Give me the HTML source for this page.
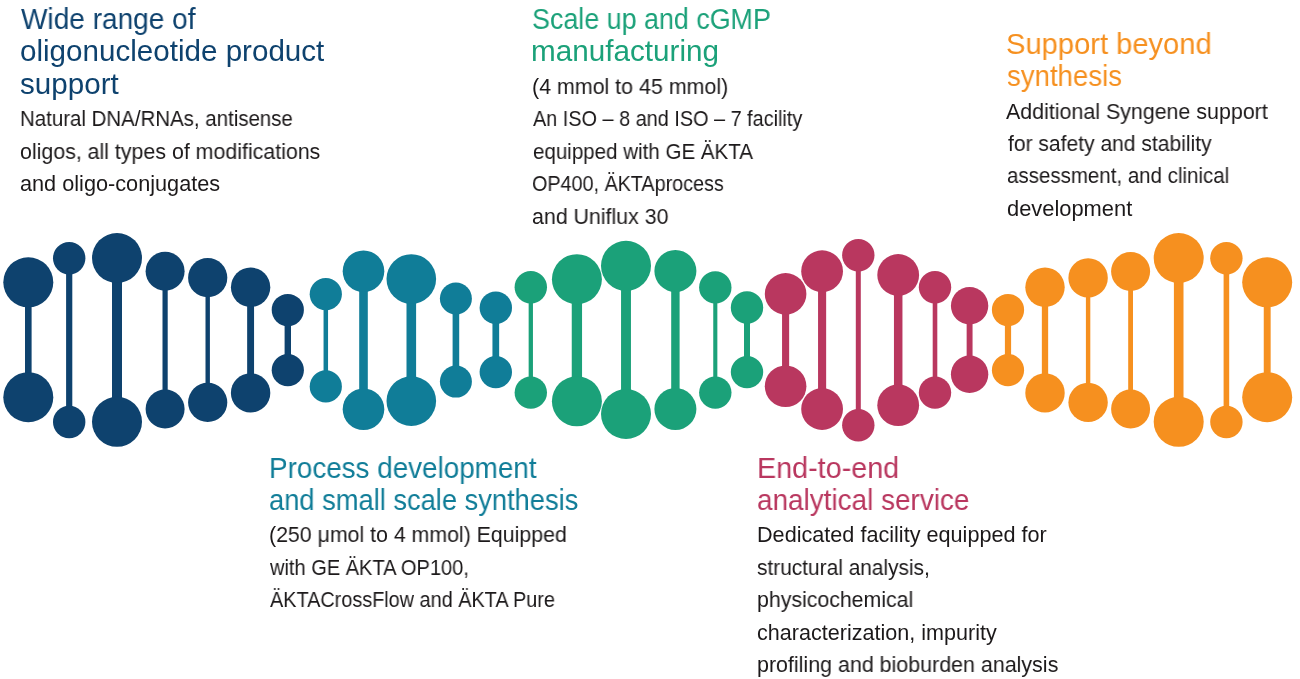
<!DOCTYPE html>
<html><head><meta charset="utf-8"><title>Oligonucleotide services</title>
<style>
html,body{margin:0;padding:0;background:#fff;}
body{width:1300px;height:679px;position:relative;overflow:hidden;font-family:"Liberation Sans",sans-serif;}
svg{position:absolute;left:0;top:0;}
.l{position:absolute;left:0;top:0;white-space:nowrap;line-height:1;transform-origin:0 0;will-change:transform;}
</style></head><body>
<svg width="1300" height="679" viewBox="0 0 1300 679">
<rect x="25" y="282.3" width="6.6" height="114.9" fill="#0e426e"/>
<circle cx="28.3" cy="282.3" r="25" fill="#0e426e"/>
<circle cx="28.3" cy="397.2" r="25" fill="#0e426e"/>
<rect x="66.1" y="258.3" width="6.2" height="163.7" fill="#0e426e"/>
<circle cx="69.2" cy="258.3" r="16.2" fill="#0e426e"/>
<circle cx="69.2" cy="422" r="16.2" fill="#0e426e"/>
<rect x="112" y="258" width="10" height="163.8" fill="#0e426e"/>
<circle cx="117" cy="258" r="25" fill="#0e426e"/>
<circle cx="117" cy="421.8" r="25" fill="#0e426e"/>
<rect x="162.5" y="271.3" width="5.2" height="137.7" fill="#0e426e"/>
<circle cx="165.1" cy="271.3" r="19.5" fill="#0e426e"/>
<circle cx="165.1" cy="409" r="19.5" fill="#0e426e"/>
<rect x="205.5" y="277.7" width="4.4" height="124.7" fill="#0e426e"/>
<circle cx="207.7" cy="277.7" r="19.6" fill="#0e426e"/>
<circle cx="207.7" cy="402.4" r="19.6" fill="#0e426e"/>
<rect x="247.15" y="287.3" width="6.9" height="105.6" fill="#0e426e"/>
<circle cx="250.6" cy="287.3" r="19.7" fill="#0e426e"/>
<circle cx="250.6" cy="392.9" r="19.7" fill="#0e426e"/>
<rect x="284.6" y="310" width="6.4" height="60.2" fill="#0e426e"/>
<circle cx="287.8" cy="310" r="16.1" fill="#0e426e"/>
<circle cx="287.8" cy="370.2" r="16.1" fill="#0e426e"/>
<rect x="323.55" y="294.2" width="4.5" height="92.2" fill="#107d98"/>
<circle cx="325.8" cy="294.2" r="16.1" fill="#107d98"/>
<circle cx="325.8" cy="386.4" r="16.1" fill="#107d98"/>
<rect x="359.2" y="271.2" width="8.6" height="138.1" fill="#107d98"/>
<circle cx="363.5" cy="271.2" r="20.8" fill="#107d98"/>
<circle cx="363.5" cy="409.3" r="20.8" fill="#107d98"/>
<rect x="406.5" y="279" width="9.6" height="122.1" fill="#107d98"/>
<circle cx="411.3" cy="279" r="24.8" fill="#107d98"/>
<circle cx="411.3" cy="401.1" r="24.8" fill="#107d98"/>
<rect x="452.6" y="298.5" width="6.6" height="83.1" fill="#107d98"/>
<circle cx="455.9" cy="298.5" r="16" fill="#107d98"/>
<circle cx="455.9" cy="381.6" r="16" fill="#107d98"/>
<rect x="492.45" y="307.7" width="6.7" height="64.4" fill="#107d98"/>
<circle cx="495.8" cy="307.7" r="16.2" fill="#107d98"/>
<circle cx="495.8" cy="372.1" r="16.2" fill="#107d98"/>
<rect x="528.65" y="287.3" width="4.3" height="105.3" fill="#1ba179"/>
<circle cx="530.8" cy="287.3" r="16.2" fill="#1ba179"/>
<circle cx="530.8" cy="392.6" r="16.2" fill="#1ba179"/>
<rect x="571.75" y="279.2" width="10.3" height="122.1" fill="#1ba179"/>
<circle cx="576.9" cy="279.2" r="25" fill="#1ba179"/>
<circle cx="576.9" cy="401.3" r="25" fill="#1ba179"/>
<rect x="621.05" y="265.8" width="9.9" height="148.2" fill="#1ba179"/>
<circle cx="626" cy="265.8" r="25" fill="#1ba179"/>
<circle cx="626" cy="414" r="25" fill="#1ba179"/>
<rect x="671.2" y="271" width="8.4" height="138" fill="#1ba179"/>
<circle cx="675.4" cy="271" r="21" fill="#1ba179"/>
<circle cx="675.4" cy="409" r="21" fill="#1ba179"/>
<rect x="713.25" y="287.4" width="4.1" height="105.2" fill="#1ba179"/>
<circle cx="715.3" cy="287.4" r="16.2" fill="#1ba179"/>
<circle cx="715.3" cy="392.6" r="16.2" fill="#1ba179"/>
<rect x="744" y="307.5" width="6" height="64.6" fill="#1ba179"/>
<circle cx="747" cy="307.5" r="16.2" fill="#1ba179"/>
<circle cx="747" cy="372.1" r="16.2" fill="#1ba179"/>
<rect x="782.05" y="293.9" width="7.1" height="92.3" fill="#b9375f"/>
<circle cx="785.6" cy="293.9" r="20.8" fill="#b9375f"/>
<circle cx="785.6" cy="386.2" r="20.8" fill="#b9375f"/>
<rect x="818.05" y="271.2" width="8.1" height="137.8" fill="#b9375f"/>
<circle cx="822.1" cy="271.2" r="20.9" fill="#b9375f"/>
<circle cx="822.1" cy="409" r="20.9" fill="#b9375f"/>
<rect x="855.8" y="255.2" width="5" height="170" fill="#b9375f"/>
<circle cx="858.3" cy="255.2" r="16.2" fill="#b9375f"/>
<circle cx="858.3" cy="425.2" r="16.2" fill="#b9375f"/>
<rect x="893.95" y="275" width="8.5" height="130.2" fill="#b9375f"/>
<circle cx="898.2" cy="275" r="20.9" fill="#b9375f"/>
<circle cx="898.2" cy="405.2" r="20.9" fill="#b9375f"/>
<rect x="932.7" y="287.3" width="4.6" height="105.3" fill="#b9375f"/>
<circle cx="935" cy="287.3" r="16.2" fill="#b9375f"/>
<circle cx="935" cy="392.6" r="16.2" fill="#b9375f"/>
<rect x="966.65" y="305.8" width="5.9" height="68.5" fill="#b9375f"/>
<circle cx="969.6" cy="305.8" r="18.7" fill="#b9375f"/>
<circle cx="969.6" cy="374.3" r="18.7" fill="#b9375f"/>
<rect x="1004.9" y="310" width="6.2" height="60.2" fill="#f6901f"/>
<circle cx="1008" cy="310" r="16.1" fill="#f6901f"/>
<circle cx="1008" cy="370.2" r="16.1" fill="#f6901f"/>
<rect x="1041.85" y="287.3" width="6.3" height="105.6" fill="#f6901f"/>
<circle cx="1045" cy="287.3" r="19.7" fill="#f6901f"/>
<circle cx="1045" cy="392.9" r="19.7" fill="#f6901f"/>
<rect x="1085.9" y="277.9" width="4.4" height="124.5" fill="#f6901f"/>
<circle cx="1088.1" cy="277.9" r="19.7" fill="#f6901f"/>
<circle cx="1088.1" cy="402.4" r="19.7" fill="#f6901f"/>
<rect x="1128.2" y="271.5" width="4.8" height="137.5" fill="#f6901f"/>
<circle cx="1130.6" cy="271.5" r="19.5" fill="#f6901f"/>
<circle cx="1130.6" cy="409" r="19.5" fill="#f6901f"/>
<rect x="1173.9" y="258" width="9.6" height="163.8" fill="#f6901f"/>
<circle cx="1178.7" cy="258" r="25" fill="#f6901f"/>
<circle cx="1178.7" cy="421.8" r="25" fill="#f6901f"/>
<rect x="1223.6" y="258.3" width="5.6" height="163.7" fill="#f6901f"/>
<circle cx="1226.4" cy="258.3" r="16.2" fill="#f6901f"/>
<circle cx="1226.4" cy="422" r="16.2" fill="#f6901f"/>
<rect x="1263.75" y="282.3" width="6.9" height="114.9" fill="#f6901f"/>
<circle cx="1267.2" cy="282.3" r="25" fill="#f6901f"/>
<circle cx="1267.2" cy="397.2" r="25" fill="#f6901f"/>
</svg>
<div class="l" style="font-size:29.5px;color:#0e426e;transform:translate(21px,4px) scaleX(0.9500)">Wide range of</div>
<div class="l" style="font-size:29.5px;color:#0e426e;transform:translate(20px,36px) scaleX(1.0030)">oligonucleotide product</div>
<div class="l" style="font-size:29.5px;color:#0e426e;transform:translate(20px,69px) scaleX(1.0031)">support</div>
<div class="l" style="font-size:21.5px;color:#1c191a;transform:translate(20px,109px) scaleX(0.9514)">Natural DNA/RNAs, antisense</div>
<div class="l" style="font-size:21.5px;color:#1c191a;transform:translate(20px,142px) scaleX(0.9933)">oligos, all types of modifications</div>
<div class="l" style="font-size:21.5px;color:#1c191a;transform:translate(20px,174px) scaleX(1.0086)">and oligo-conjugates</div>
<div class="l" style="font-size:29.5px;color:#1ba179;transform:translate(532px,4px) scaleX(0.9104)">Scale up and cGMP</div>
<div class="l" style="font-size:29.5px;color:#1ba179;transform:translate(531px,36px) scaleX(1.0060)">manufacturing</div>
<div class="l" style="font-size:21.5px;color:#1c191a;transform:translate(532px,77px) scaleX(0.9954)">(4 mmol to 45 mmol)</div>
<div class="l" style="font-size:21.5px;color:#1c191a;transform:translate(533px,109px) scaleX(0.9237)">An ISO – 8 and ISO – 7 facility</div>
<div class="l" style="font-size:21.5px;color:#1c191a;transform:translate(533px,142px) scaleX(0.9550)">equipped with GE ÄKTA</div>
<div class="l" style="font-size:21.5px;color:#1c191a;transform:translate(532px,174px) scaleX(0.9189)">OP400, ÄKTAprocess</div>
<div class="l" style="font-size:21.5px;color:#1c191a;transform:translate(532px,207px) scaleX(0.9934)">and Uniflux 30</div>
<div class="l" style="font-size:29.5px;color:#f6901f;transform:translate(1006px,29px) scaleX(0.9873)">Support beyond</div>
<div class="l" style="font-size:29.5px;color:#f6901f;transform:translate(1007px,61px) scaleX(0.9351)">synthesis</div>
<div class="l" style="font-size:21.5px;color:#1c191a;transform:translate(1006px,102px) scaleX(0.9951)">Additional Syngene support</div>
<div class="l" style="font-size:21.5px;color:#1c191a;transform:translate(1008px,134px) scaleX(0.9788)">for safety and stability</div>
<div class="l" style="font-size:21.5px;color:#1c191a;transform:translate(1007px,166px) scaleX(0.9537)">assessment, and clinical</div>
<div class="l" style="font-size:21.5px;color:#1c191a;transform:translate(1007px,199px) scaleX(1.0173)">development</div>
<div class="l" style="font-size:29.5px;color:#107d98;transform:translate(269px,453px) scaleX(0.9431)">Process development</div>
<div class="l" style="font-size:29.5px;color:#107d98;transform:translate(269px,485px) scaleX(0.9247)">and small scale synthesis</div>
<div class="l" style="font-size:21.5px;color:#1c191a;transform:translate(269px,525px) scaleX(0.9913)">(250 μmol to 4 mmol) Equipped</div>
<div class="l" style="font-size:21.5px;color:#1c191a;transform:translate(270px,558px) scaleX(0.9316)">with GE ÄKTA OP100,</div>
<div class="l" style="font-size:21.5px;color:#1c191a;transform:translate(270px,590px) scaleX(0.9231)">ÄKTACrossFlow and ÄKTA Pure</div>
<div class="l" style="font-size:29.5px;color:#b9375f;transform:translate(757px,453px) scaleX(0.9740)">End-to-end</div>
<div class="l" style="font-size:29.5px;color:#b9375f;transform:translate(757px,485px) scaleX(0.9455)">analytical service</div>
<div class="l" style="font-size:21.5px;color:#1c191a;transform:translate(757px,525px) scaleX(1.0060)">Dedicated facility equipped for</div>
<div class="l" style="font-size:21.5px;color:#1c191a;transform:translate(757px,558px) scaleX(0.9709)">structural analysis,</div>
<div class="l" style="font-size:21.5px;color:#1c191a;transform:translate(757px,590px) scaleX(0.9904)">physicochemical</div>
<div class="l" style="font-size:21.5px;color:#1c191a;transform:translate(757px,623px) scaleX(1.0034)">characterization, impurity</div>
<div class="l" style="font-size:21.5px;color:#1c191a;transform:translate(757px,655px) scaleX(0.9964)">profiling and bioburden analysis</div>
</body></html>
